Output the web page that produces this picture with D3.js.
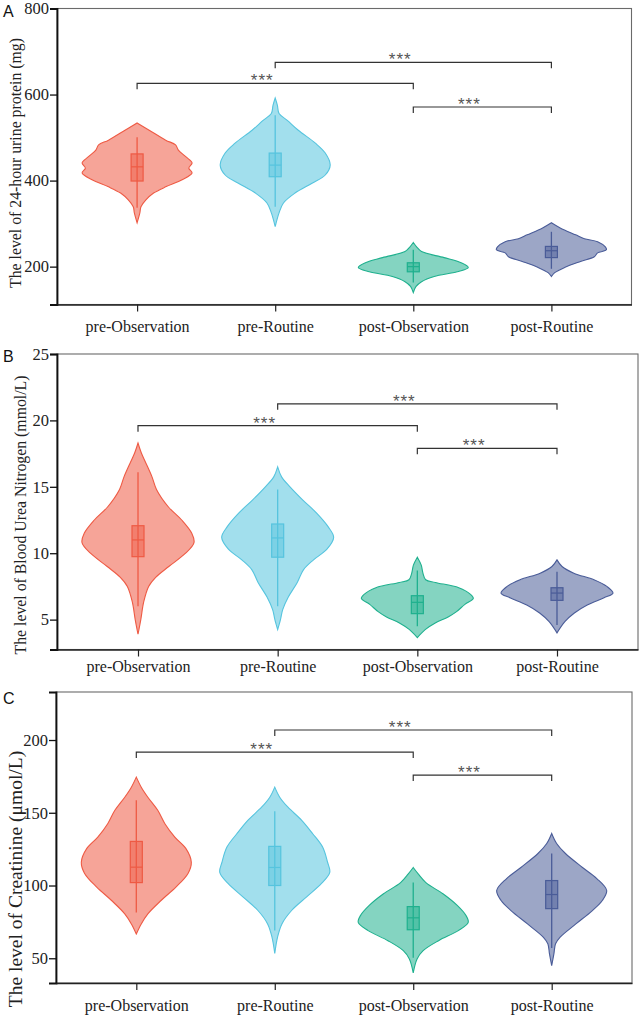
<!DOCTYPE html>
<html>
<head>
<meta charset="utf-8">
<script src="https://cdn.jsdelivr.net/npm/d3@7"></script>
<style>
  body { margin: 0; background: #fff; }
  svg { display: block; }
</style>
</head>
<body>
<svg id="chart" width="644" height="1020"></svg>
<script>
// groups along the x axis
var groups = ["pre-Observation", "pre-Routine", "post-Observation", "post-Routine"];
var colors = ["#EE5A44", "#56C4DE", "#1FB08E", "#4A5C98"];

// 24-hour urine protein (mg)
var proteinTicks = [200, 400, 600, 800];
var proteinDomain = [112, 800];
// whisker low, q1, median, q3, whisker high
var proteinBoxes = [
  [337, 399, 432, 462, 501],
  [339, 409, 436, 464, 552],
  [163, 188, 200, 209, 239],
  [195, 221, 237, 247, 281]
];
// violin outline: [value, relative density], top to bottom
var proteinViolins = [
  [[534,0],[517,0.22],[494,0.52],[483,0.70],[471,0.75],[455,0.89],[441,1.0],[429,0.94],[418,1.0],[402,0.82],[386,0.53],[371,0.30],[355,0.16],[339,0.07],[325,0.05],[302,0]],
  [[592,0],[575,0.04],[556,0.07],[540,0.22],[517,0.42],[487,0.73],[464,0.91],[436,1.0],[413,0.91],[394,0.67],[371,0.36],[348,0.15],[325,0.07],[293,0]],
  [[256,0],[246,0.06],[235,0.15],[221,0.56],[209,0.87],[198,1.0],[188,0.8],[177,0.38],[165,0.15],[154,0.05],[140,0]],
  [[302,0],[290,0.16],[274,0.44],[265,0.6],[258,0.84],[246,0.98],[239,1.0],[232,0.84],[223,0.78],[212,0.53],[198,0.24],[186,0.06],[177,0]]
];
// [from group, to group, level]
var proteinBrackets = [[0, 2, 626], [1, 3, 675], [2, 3, 571]];

// blood urea nitrogen (mmol/L)
var bunTicks = [5, 10, 15, 20, 25];
var bunDomain = [2.75, 25];
var bunBoxes = [
  [6.0, 9.74, 11.0, 12.07, 16.1],
  [6.0, 9.7, 11.15, 12.2, 14.8],
  [4.5, 5.45, 6.3, 6.8, 8.7],
  [4.6, 6.45, 7.0, 7.4, 8.6]
];
var bunViolins = [
  [[18.3,0],[17.55,0.06],[16.8,0.14],[15.75,0.25],[14.8,0.33],[13.5,0.54],[12.5,0.78],[11.5,0.96],[10.8,1.0],[10.0,0.85],[9.0,0.55],[8.2,0.32],[7.5,0.19],[6.3,0.1],[5.0,0.05],[3.9,0]],
  [[16.5,0],[15.75,0.07],[15.0,0.22],[14.0,0.45],[13.0,0.7],[12.0,0.9],[11.2,1.0],[10.3,0.88],[9.5,0.64],[8.75,0.46],[7.8,0.35],[6.7,0.19],[5.75,0.09],[5.0,0.05],[4.25,0]],
  [[9.7,0],[9.1,0.07],[8.5,0.1],[8.0,0.15],[7.8,0.32],[7.4,0.74],[6.9,0.95],[6.6,1.0],[6.15,0.85],[5.6,0.7],[5.2,0.55],[4.75,0.32],[4.25,0.14],[3.65,0]],
  [[9.5,0],[9.0,0.09],[8.5,0.3],[8.0,0.66],[7.5,0.89],[7.0,1.0],[6.65,0.84],[6.1,0.54],[5.5,0.31],[4.85,0.14],[4.0,0]]
];
var bunBrackets = [[0, 2, 19.6], [1, 3, 21.25], [2, 3, 17.9]];

// creatinine (umol/L)
var creatTicks = [50, 100, 150, 200];
var creatDomain = [33, 233];
var creatBoxes = [
  [81.4, 102, 112.6, 130.3, 158.6],
  [69, 100, 112.4, 126.9, 151],
  [50.3, 69.6, 77.8, 85.5, 102],
  [57, 84.1, 93.8, 103.4, 122]
];
var creatViolins = [
  [[174.5,0],[167.6,0.09],[160.7,0.21],[151.7,0.39],[142.5,0.52],[133.3,0.7],[125.5,0.9],[116,1.0],[108.3,0.94],[98.9,0.72],[89.7,0.45],[80.5,0.21],[73.6,0.09],[66.7,0]],
  [[167.6,0],[160.7,0.09],[153.8,0.24],[144.8,0.49],[135.6,0.69],[126.4,0.87],[116,0.96],[109,1.0],[101.4,0.85],[92.2,0.58],[83,0.31],[73.6,0.13],[64.4,0.05],[53.3,0]],
  [[112.4,0],[108,0.09],[102,0.23],[94.3,0.54],[86.3,0.8],[79.3,0.96],[74.7,1.0],[69,0.82],[62.1,0.46],[55.2,0.18],[49.5,0.07],[40,0]],
  [[135.8,0],[128.9,0.09],[122,0.25],[112.4,0.56],[104.8,0.82],[96.6,1.0],[89.7,0.92],[82.8,0.74],[73.6,0.44],[64.4,0.15],[60,0.07],[53,0.04],[45,0]]
];
var creatBrackets = [[0, 2, 191.7], [1, 3, 206.9], [2, 3, 175.9]];

var serif = "'Liberation Serif', 'Times New Roman', serif";
var sans = "'Liberation Sans', Arial, sans-serif";

var panels = [
  { letter: "A", title: "The level of 24-hour urine protein (mg)",
    ticks: proteinTicks, domain: proteinDomain, boxes: proteinBoxes, violins: proteinViolins, brackets: proteinBrackets,
    left: 57, right: 631.5, top: 8.5, bottom: 304.5, halfW: 55, labelPad: 9,
    titleX: 15, titleY: 163, titleSize: 15.8, letterY: 17 },
  { letter: "B", title: "The level of Blood Urea Nitrogen (mmol/L)",
    ticks: bunTicks, domain: bunDomain, boxes: bunBoxes, violins: bunViolins, brackets: bunBrackets,
    left: 57, right: 638, top: 354, bottom: 649.5, halfW: 56, labelPad: 4,
    titleX: 20, titleY: 515, titleSize: 15.8, letterY: 362 },
  { letter: "C", title: "The level of Creatinine (\u03bcmol/L)",
    ticks: creatTicks, domain: creatDomain, boxes: creatBoxes, violins: creatViolins, brackets: creatBrackets,
    left: 56, right: 632, top: 692, bottom: 983, halfW: 55, labelPad: 10,
    titleX: 15.5, titleY: 879, titleSize: 19.5, letterY: 704 }
];

var svg = d3.select("#chart");

panels.forEach(function(p) {
  var g = svg.append("g");

  var x = d3.scalePoint()
    .domain(groups)
    .range([p.left, p.right])
    .padding(0.58);

  var y = d3.scaleLinear()
    .domain(p.domain)
    .range([p.bottom, p.top]);

  var w = d3.scaleLinear()
    .domain([0, 1])
    .range([0, p.halfW]);

  // frame (top + right)
  g.append("rect")
    .attr("x", p.left)
    .attr("y", p.top)
    .attr("width", p.right - p.left)
    .attr("height", p.bottom - p.top)
    .attr("fill", "none")
    .attr("stroke", "#6a6a6a")
    .attr("stroke-width", 1.1);

  // violins
  p.violins.forEach(function(profile, i) {
    var cx = x(groups[i]);
    var area = d3.area()
      .y(function(d) { return y(d[0]); })
      .x0(function(d) { return cx - w(d[1]); })
      .x1(function(d) { return cx + w(d[1]); })
      .curve(d3.curveCatmullRom.alpha(0.5));
    g.append("path")
      .attr("d", area(profile))
      .attr("fill", colors[i])
      .attr("fill-opacity", 0.55)
      .attr("stroke", colors[i])
      .attr("stroke-width", 1.1);
  });

  // box plots
  p.boxes.forEach(function(b, i) {
    var cx = x(groups[i]);
    g.append("line")
      .attr("x1", cx).attr("x2", cx)
      .attr("y1", y(b[0])).attr("y2", y(b[4]))
      .attr("stroke", colors[i])
      .attr("stroke-width", 1.3);
    g.append("rect")
      .attr("x", cx - 6)
      .attr("y", y(b[3]))
      .attr("width", 12)
      .attr("height", y(b[1]) - y(b[3]))
      .attr("fill", colors[i])
      .attr("fill-opacity", 0.5)
      .attr("stroke", colors[i])
      .attr("stroke-width", 1.2);
    g.append("line")
      .attr("x1", cx - 6).attr("x2", cx + 6)
      .attr("y1", y(b[2])).attr("y2", y(b[2]))
      .attr("stroke", colors[i])
      .attr("stroke-width", 1.2);
  });

  // significance brackets
  p.brackets.forEach(function(br) {
    var x1 = x(groups[br[0]]), x2 = x(groups[br[1]]), yy = y(br[2]);
    g.append("path")
      .attr("d", "M" + x1 + "," + (yy + 6) + "V" + yy + "H" + x2 + "V" + (yy + 6))
      .attr("fill", "none")
      .attr("stroke", "#333")
      .attr("stroke-width", 1.2);
    g.append("text")
      .attr("x", (x1 + x2) / 2 - 13)
      .attr("y", yy + 3)
      .attr("text-anchor", "middle")
      .attr("font-family", sans)
      .attr("font-size", 17)
      .attr("letter-spacing", 1)
      .attr("fill", "#555")
      .text("***");
  });

  // y axis
  var yAxis = g.append("g")
    .attr("transform", "translate(" + p.left + ",0)")
    .call(d3.axisLeft(y).tickValues(p.ticks).tickSize(7).tickSizeOuter(7).tickPadding(1));
  yAxis.select(".domain").attr("stroke", "#111").attr("stroke-width", 1.8);
  yAxis.selectAll(".tick line").attr("stroke", "#111").attr("stroke-width", 1.3);
  yAxis.selectAll("text")
    .attr("font-family", serif)
    .attr("font-size", 16.5)
    .attr("fill", "#222");

  // x axis
  var xAxis = g.append("g")
    .attr("transform", "translate(0," + p.bottom + ")")
    .call(d3.axisBottom(x).tickSize(7).tickSizeOuter(0).tickPadding(p.labelPad));
  xAxis.select(".domain").attr("stroke", "#222").attr("stroke-width", 1.5);
  xAxis.selectAll(".tick line").attr("stroke", "#222").attr("stroke-width", 1.2);
  xAxis.selectAll("text")
    .attr("font-family", serif)
    .attr("font-size", 16)
    .attr("fill", "#222");

  // y title
  g.append("text")
    .attr("transform", "translate(" + p.titleX + "," + p.titleY + ") rotate(-90)")
    .attr("text-anchor", "middle")
    .attr("dominant-baseline", "central")
    .attr("font-family", serif)
    .attr("font-size", p.titleSize)
    .attr("fill", "#222")
    .text(p.title);

  // panel letter
  g.append("text")
    .attr("x", 3)
    .attr("y", p.letterY)
    .attr("font-family", sans)
    .attr("font-size", 16)
    .attr("fill", "#111")
    .text(p.letter);
});
</script>
</body>
</html>
